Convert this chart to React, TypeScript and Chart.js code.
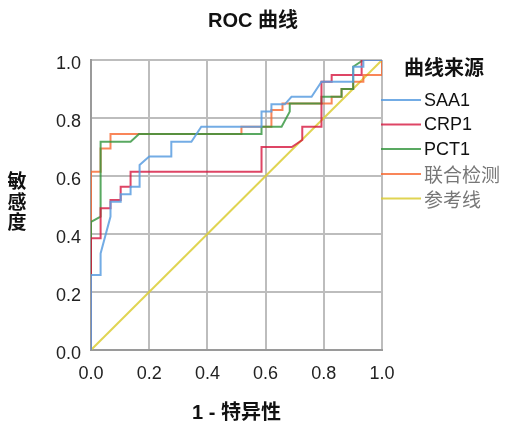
import React, { useEffect, useRef } from 'react';
import { Chart, registerables } from 'chart.js';

Chart.register(...registerables);

// ---- data ----
const seriesLabels = ['SAA1', 'CRP1', 'PCT1', '联合检测', '参考线'];
const axisTicks = [0, 0.2, 0.4, 0.6, 0.8, 1.0];

const saa1X = [0, 0, 0.033, 0.033, 0.067, 0.067, 0.102, 0.102, 0.136, 0.136, 0.167, 0.167, 0.2, 0.276, 0.276, 0.345, 0.379, 0.586, 0.586, 0.62, 0.62, 0.666, 0.689, 0.758, 0.792, 0.901, 0.901, 0.936, 0.936, 1];
const saa1Y = [0, 0.259, 0.259, 0.333, 0.46, 0.511, 0.511, 0.537, 0.537, 0.563, 0.563, 0.638, 0.667, 0.667, 0.718, 0.718, 0.77, 0.77, 0.822, 0.822, 0.847, 0.847, 0.873, 0.873, 0.925, 0.925, 0.977, 0.977, 1, 1];

const crp1X = [0, 0, 0.033, 0.033, 0.067, 0.067, 0.102, 0.102, 0.136, 0.136, 0.586, 0.586, 0.69, 0.726, 0.726, 0.792, 0.792, 0.827, 0.827, 0.93, 0.93, 1];
const crp1Y = [0, 0.385, 0.385, 0.489, 0.489, 0.517, 0.517, 0.563, 0.563, 0.615, 0.615, 0.70, 0.70, 0.724, 0.77, 0.77, 0.925, 0.925, 0.948, 0.948, 1, 1];

const pct1X = [0, 0, 0.033, 0.033, 0.136, 0.165, 0.586, 0.586, 0.655, 0.683, 0.683, 0.792, 0.792, 0.861, 0.861, 0.901, 0.901, 0.936, 1];
const pct1Y = [0, 0.442, 0.46, 0.718, 0.718, 0.745, 0.745, 0.77, 0.77, 0.822, 0.85, 0.85, 0.873, 0.873, 0.9, 0.9, 0.977, 1, 1];

const combX = [0, 0, 0.033, 0.033, 0.067, 0.067, 0.517, 0.517, 0.62, 0.62, 0.658, 0.658, 0.827, 0.827, 0.861, 0.861, 0.901, 0.901, 0.936, 0.936, 1, 1];
const combY = [0, 0.615, 0.615, 0.695, 0.695, 0.745, 0.745, 0.77, 0.77, 0.828, 0.828, 0.85, 0.85, 0.873, 0.873, 0.9, 0.9, 0.925, 0.925, 0.948, 0.948, 1];

const refX = [0, 1];
const refY = [0, 1];

const seriesColors = [
  'rgba(90,158,224,0.85)',
  'rgba(214,22,62,0.8)',
  'rgba(48,148,58,0.8)',
  'rgba(247,104,48,0.8)',
  'rgba(218,205,52,0.85)',
];

const zip = (xs: number[], ys: number[]) => xs.map((x, i) => ({ x, y: ys[i] }));

const decorPlugin = {
  id: 'decor',
  afterDraw(chart: any) {
    const ctx = chart.ctx as CanvasRenderingContext2D;
    ctx.save();
    ctx.fillStyle = '#111';
    ctx.textBaseline = 'middle';
    // title
    ctx.textAlign = 'center';
    ctx.font = 'bold 20px "Liberation Sans", "Noto Sans CJK SC", sans-serif';
    ctx.fillText('ROC 曲线', 253, 21);
    // x axis title
    const ca = chart.chartArea;
    ctx.fillText('1 - 特异性', (ca.left + ca.right) / 2, 413);
    // y axis title (stacked chars)
    ctx.font = 'bold 19px "Noto Sans CJK SC", sans-serif';
    const yChars = ['敏', '感', '度'];
    yChars.forEach((c, i) => ctx.fillText(c, 17, 181 + i * 20.5));
    // legend
    ctx.textAlign = 'left';
    ctx.font = 'bold 20px "Noto Sans CJK SC", sans-serif';
    ctx.fillText('曲线来源', 404, 67);
    const ys = [100, 124.5, 149, 174, 198.5];
    chart.data.datasets.forEach((ds: any, i: number) => {
      const y = ys[i];
      ctx.strokeStyle = ds.borderColor;
      ctx.lineWidth = 2;
      ctx.beginPath();
      ctx.moveTo(381, y);
      ctx.lineTo(421, y);
      ctx.stroke();
      const isLatin = /^[A-Za-z0-9]+$/.test(ds.label);
      ctx.font = isLatin ? '18px "Liberation Sans", sans-serif' : '19px "Noto Sans CJK SC", sans-serif';
      ctx.fillStyle = isLatin ? '#111' : '#777';
      ctx.fillText(ds.label, 424, y + 1);
    });
    ctx.restore();
  },
};

export default function App() {
  const ref = useRef<HTMLCanvasElement | null>(null);
  useEffect(() => {
    if (!ref.current) return;
    const xs = [saa1X, crp1X, pct1X, combX, refX];
    const yv = [saa1Y, crp1Y, pct1Y, combY, refY];
    const chart = new Chart(ref.current, {
      type: 'scatter',
      data: {
        datasets: seriesLabels.map((label, i) => ({
          label,
          data: zip(xs[i], yv[i]),
          showLine: true,
          borderColor: seriesColors[i],
          backgroundColor: seriesColors[i],
          borderWidth: 2,
          pointRadius: 0,
          pointHoverRadius: 0,
          tension: 0,
        })),
      },
      options: {
        animation: false,
        responsive: false,
        events: [],
        layout: { padding: { left: 0, right: 124, top: 60, bottom: 50 } },
        plugins: {
          legend: { display: false },
          title: { display: false },
          tooltip: { enabled: false },
        },
        scales: {
          x: {
            type: 'linear',
            min: 0,
            max: 1,
            afterBuildTicks: (s: any) => { s.ticks = axisTicks.map((v) => ({ value: v })); },
            afterFit: (s: any) => { s.height = 30; },
            ticks: {
              callback: (v: any) => Number(v).toFixed(1),
              font: { size: 18, family: '"Liberation Sans", sans-serif' },
              color: '#222',
              padding: 13,
              maxRotation: 0,
            },
            grid: { color: '#bdbdbd', lineWidth: 2, drawTicks: false },
            border: { color: '#9a9a9a', width: 2 },
          },
          y: {
            type: 'linear',
            min: 0,
            max: 1,
            afterBuildTicks: (s: any) => { s.ticks = axisTicks.map((v) => ({ value: v })); },
            afterFit: (s: any) => { s.width = 91; },
            ticks: {
              callback: (v: any) => Number(v).toFixed(1),
              font: { size: 18, family: '"Liberation Sans", sans-serif' },
              color: '#222',
              padding: 10,
              labelOffset: 4,
            },
            grid: { color: '#bdbdbd', lineWidth: 2, drawTicks: false },
            border: { color: '#9a9a9a', width: 2 },
          },
        },
      },
      plugins: [decorPlugin],
    });
    return () => chart.destroy();
  }, []);
  return (
    <div style={{ position: 'absolute', left: 0, top: 0, width: 506, height: 430, background: '#fff' }}>
      <canvas ref={ref} width={506} height={430} style={{ display: 'block' }} />
    </div>
  );
}
